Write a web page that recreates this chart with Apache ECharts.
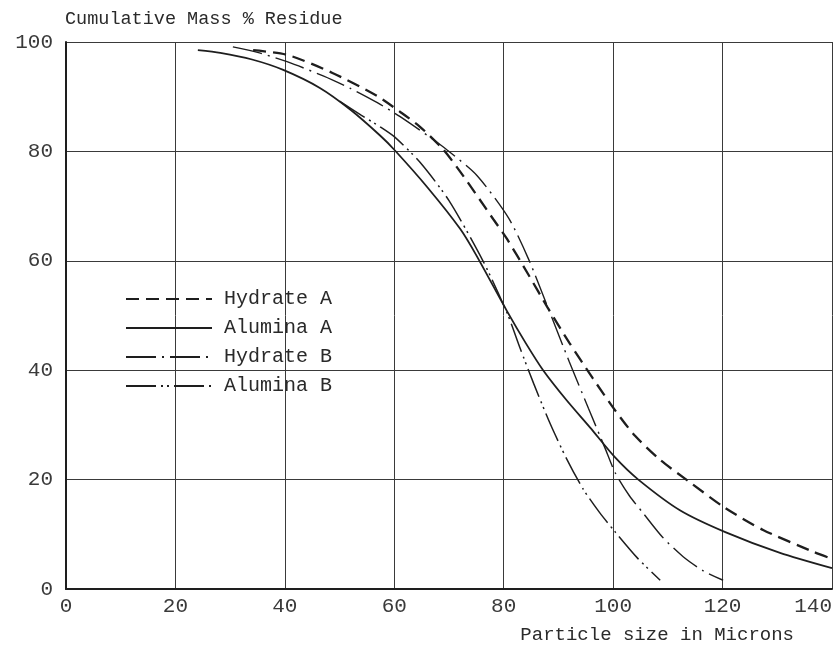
<!DOCTYPE html>
<html>
<head>
<meta charset="utf-8">
<script src="https://cdn.jsdelivr.net/npm/echarts@6/dist/echarts.min.js"></script>
<style>
  html, body { margin: 0; padding: 0; background: #ffffff; }
  #chart { width: 835px; height: 647px; }
</style>
</head>
<body>
<div id="chart"></div>
<script>
// ---- Data ----
var xTicks = [0, 20, 40, 60, 80, 100, 120, 140];
var yTicks = [0, 20, 40, 60, 80, 100];

var seriesNames = ["Hydrate A", "Alumina A", "Hydrate B", "Alumina B"];

var hydrateA_x = [34.2, 40.6, 48.8, 56.9, 61.1, 64.7, 68.9, 72.4, 78.1, 80.6, 84.5, 88.0, 92.0, 96.3, 100.4, 104.0, 108.6, 113.5, 120.5, 127.4, 136.6, 140];
var hydrateA_y = [98.5, 97.6, 94.3, 90.1, 87.2, 84.5, 80.4, 75.8, 67.6, 64.0, 57.5, 51.5, 45.0, 38.5, 32.6, 28.0, 23.6, 19.9, 14.8, 10.8, 6.8, 5.5];

var aluminaA_x = [24.1, 28.2, 34.0, 39.7, 46.4, 52.0, 57.4, 60.0, 66.0, 72.0, 75.0, 80.6, 84.0, 87.2, 91.5, 95.8, 100.4, 104.6, 112.2, 120.5, 130.5, 140];
var aluminaA_y = [98.5, 98.0, 96.8, 94.9, 91.6, 87.6, 82.9, 80.3, 73.5, 65.9, 61.0, 50.8, 45.0, 40.0, 34.5, 29.5, 24.0, 20.0, 14.4, 10.4, 6.6, 3.8];

var hydrateB_x = [30.5, 35.0, 40.4, 47.0, 52.0, 56.9, 61.0, 66.5, 69.6, 75.1, 80.9, 84.5, 88.5, 92.0, 95.5, 98.5, 100.4, 103.0, 105.3, 109.0, 112.8, 116.5, 120.1];
var hydrateB_y = [99.1, 98.1, 96.4, 93.8, 91.5, 88.9, 86.4, 82.6, 80.3, 75.6, 67.8, 60.4, 50.4, 41.5, 33.0, 25.8, 21.2, 17.0, 14.1, 9.5, 5.9, 3.3, 1.6];

var aluminaB_x = [50.0, 54.0, 57.4, 60.1, 64.7, 70.0, 76.2, 80.6, 83.0, 85.5, 88.5, 91.5, 94.5, 97.5, 100.4, 104.5, 108.6];
var aluminaB_y = [89.2, 86.6, 84.5, 82.6, 78.0, 71.0, 60.0, 50.5, 44.0, 37.5, 30.2, 23.8, 18.3, 14.0, 10.4, 5.6, 1.6];

function pairs(xs, ys) {
  var out = [];
  for (var i = 0; i < xs.length; i++) out.push([xs[i], ys[i]]);
  return out;
}

var ink = '#1e1e1e';
var fontMono = 'Liberation Mono, DejaVu Sans Mono, monospace';

var chart = echarts.init(document.getElementById('chart'), null, { renderer: 'canvas' });

function lineSeries(name, xs, ys, width, dash) {
  return {
    name: name, type: 'line', data: pairs(xs, ys),
    smooth: 0.25, showSymbol: false, symbol: 'none',
    lineStyle: { color: ink, width: width, type: dash },
    itemStyle: { color: ink }
  };
}

var option = {
  backgroundColor: '#ffffff',
  animation: false,
  grid: { left: 66, right: 3, top: 42, bottom: 58, containLabel: false },
  legend: {
    orient: 'vertical',
    left: 120,
    top: 284,
    itemWidth: 86,
    itemHeight: 14,
    itemGap: 9,
    data: seriesNames,
    itemStyle: { opacity: 0 },
    textStyle: { fontFamily: fontMono, fontSize: 20, lineHeight: 20, color: '#2a2a2a', padding: [0, 0, 0, 7] }
  },
  xAxis: {
    type: 'value',
    min: 0,
    max: 140,
    interval: 20,
    name: 'Particle size in Microns',
    nameLocation: 'end',
    nameGap: 0,
    nameTextStyle: {
      fontFamily: fontMono, fontSize: 19, color: '#2a2a2a',
      align: 'right', verticalAlign: 'top', padding: [36, 38, 0, 0]
    },
    axisLine: { show: true, lineStyle: { color: ink, width: 2 } },
    axisTick: { show: false },
    axisLabel: {
      fontFamily: fontMono, fontSize: 21, color: '#3a3a3a', margin: 7,
      alignMaxLabel: 'right',
      formatter: function (v) { return xTicks.indexOf(v) >= 0 ? String(v) : ''; }
    },
    splitLine: { show: true, lineStyle: { color: '#3a3a3a', width: 1 } }
  },
  yAxis: {
    type: 'value',
    min: 0,
    max: 100,
    interval: 20,
    name: 'Cumulative Mass % Residue',
    nameLocation: 'end',
    nameGap: 13,
    nameTextStyle: {
      fontFamily: fontMono, fontSize: 18.5, color: '#2a2a2a',
      align: 'left', padding: [0, 0, 0, -1]
    },
    axisLine: { show: true, lineStyle: { color: ink, width: 2 } },
    axisTick: { show: false },
    axisLabel: {
      fontFamily: fontMono, fontSize: 21, color: '#3a3a3a', margin: 13,
      formatter: function (v) { return yTicks.indexOf(v) >= 0 ? String(v) : ''; }
    },
    splitLine: { show: true, lineStyle: { color: '#3a3a3a', width: 1 } }
  },
  series: [
    lineSeries(seriesNames[0], hydrateA_x, hydrateA_y, 2.3, [13, 7]),
    lineSeries(seriesNames[1], aluminaA_x, aluminaA_y, 1.8, 'solid'),
    lineSeries(seriesNames[2], hydrateB_x, hydrateB_y, 1.4, [30, 6, 2, 6]),
    lineSeries(seriesNames[3], aluminaB_x, aluminaB_y, 1.5, [30, 5, 2, 4, 2, 5])
  ]
};

chart.setOption(option);
</script>
</body>
</html>
